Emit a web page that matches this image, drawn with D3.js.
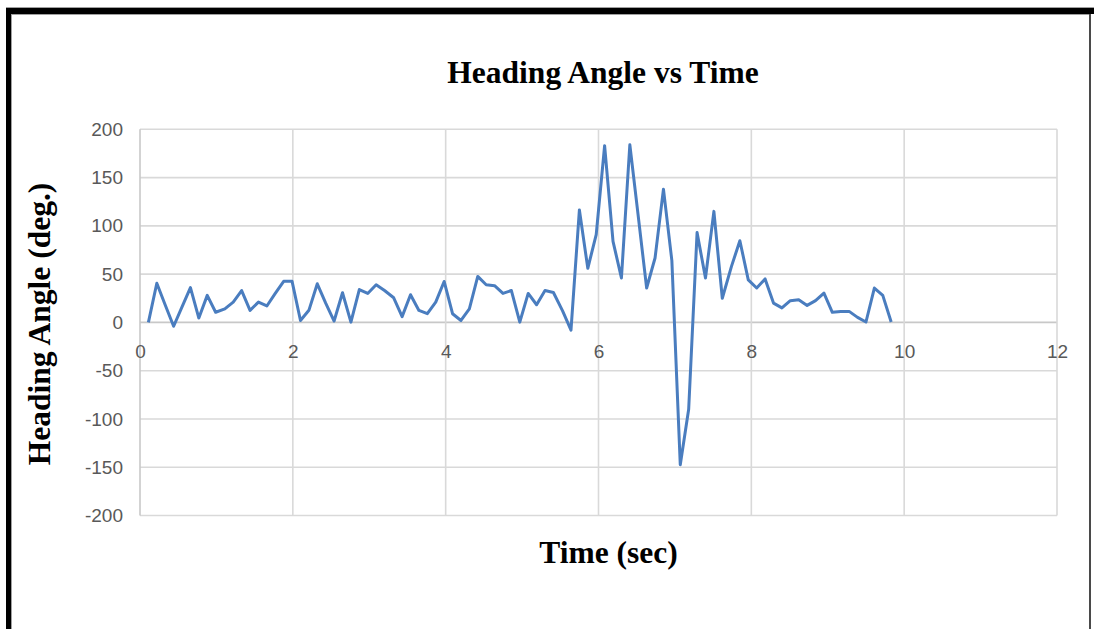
<!DOCTYPE html>
<html>
<head>
<meta charset="utf-8">
<script src="https://cdn.jsdelivr.net/npm/d3@7/dist/d3.min.js"></script>
<style>
  html, body { margin: 0; padding: 0; background: #ffffff; }
  svg { display: block; }
</style>
</head>
<body>
<script>
// Sample times (sec) and heading angle readings (deg.)
const timeSec = [
  0.11, 0.22, 0.33, 0.44, 0.55, 0.66, 0.77, 0.88, 0.99, 1.11,
  1.22, 1.33, 1.44, 1.55, 1.66, 1.77, 1.88, 1.99, 2.10, 2.21,
  2.32, 2.43, 2.54, 2.65, 2.76, 2.87, 2.98, 3.09, 3.20, 3.32,
  3.43, 3.54, 3.65, 3.76, 3.87, 3.98, 4.09, 4.20, 4.31, 4.42,
  4.53, 4.64, 4.75, 4.86, 4.97, 5.08, 5.19, 5.30, 5.41, 5.53,
  5.64, 5.75, 5.86, 5.97, 6.08, 6.19, 6.30, 6.41, 6.52, 6.63,
  6.74, 6.85, 6.96, 7.07, 7.18, 7.29, 7.40, 7.51, 7.62, 7.74,
  7.85, 7.96, 8.07, 8.18, 8.29, 8.40, 8.51, 8.62, 8.73, 8.84,
  8.95, 9.06, 9.17, 9.28, 9.39, 9.50, 9.61, 9.72, 9.83
];
const headingDeg = [
  0, 40.5, 18, -4, 16, 36, 4.5, 28, 10.5, 14,
  21, 33, 12.5, 21, 17, 30, 42.5, 42.5, 2, 12.5,
  40, 20, 1.4, 30.7, 0.3, 34, 30, 39, 33, 25.5,
  6, 28.7, 12.4, 9, 21, 42.4, 9, 2, 14, 47.6,
  39, 38, 30, 33, 0.3, 30, 18.3, 33, 31, 12,
  -8, 116.5, 56, 91, 183, 84, 46, 184, 110, 35.6,
  66.7, 138, 64, -147.5, -90, 93, 46, 115, 25, 58,
  84.6, 44, 35.6, 45, 20, 15, 22.5, 23.5, 17.6, 22.5,
  30.4, 10.4, 11.4, 11.4, 5.2, 0.4, 35.6, 28, 0.4
];

const xTicks = [0, 2, 4, 6, 8, 10, 12];
const yTicks = [-200, -150, -100, -50, 0, 50, 100, 150, 200];

const chartTitle = "Heading Angle vs Time";
const xTitle = "Time (sec)";
const yTitle = "Heading Angle (deg.)";

const W = 1094, H = 629;
const plot = { left: 140, right: 1057, top: 129.3, bottom: 515.5 };

const svg = d3.select("body").append("svg")
  .attr("width", W).attr("height", H);

svg.append("rect").attr("width", W).attr("height", H).attr("fill", "#ffffff");

// Outer frame: heavy top and left rule, thin right rule
svg.append("rect").attr("x", 6).attr("y", 8).attr("width", W - 6).attr("height", 6).attr("fill", "#000");
svg.append("rect").attr("x", 6).attr("y", 8).attr("width", 5).attr("height", H - 8).attr("fill", "#000");
svg.append("line").attr("x1", 6).attr("x2", W).attr("y1", 7.5).attr("y2", 7.5).attr("stroke", "#a0a0a0").attr("stroke-width", 1);
svg.append("line").attr("x1", 11).attr("x2", 1089).attr("y1", 14.5).attr("y2", 14.5).attr("stroke", "#a0a0a0").attr("stroke-width", 1);
svg.append("line").attr("x1", 11.5).attr("x2", 11.5).attr("y1", 14).attr("y2", H).attr("stroke", "#a0a0a0").attr("stroke-width", 1);
svg.append("line").attr("x1", 1090).attr("x2", 1090).attr("y1", 14).attr("y2", H).attr("stroke", "#4a4a4a").attr("stroke-width", 2);

const x = d3.scaleLinear().domain([0, 12]).range([plot.left, plot.right]);
const y = d3.scaleLinear().domain([-200, 200]).range([plot.bottom, plot.top]);

// Gridlines
const grid = svg.append("g");
grid.selectAll("line.h").data(yTicks).join("line")
  .attr("class", "h")
  .attr("x1", plot.left).attr("x2", plot.right)
  .attr("y1", d => y(d)).attr("y2", d => y(d))
  .attr("stroke", d => d === 0 ? "#c8c8c8" : "#d9d9d9")
  .attr("stroke-width", 1.6);
grid.selectAll("line.v").data(xTicks).join("line")
  .attr("class", "v")
  .attr("x1", d => x(d)).attr("x2", d => x(d))
  .attr("y1", plot.top).attr("y2", plot.bottom)
  .attr("stroke", d => d === 0 ? "#c8c8c8" : "#d9d9d9")
  .attr("stroke-width", 1.6);

const tickFont = "'Liberation Sans', Arial, sans-serif";
const plainNumber = d => String(d);

// Y axis labels
const yAxis = svg.append("g")
  .attr("transform", `translate(${plot.left},0)`)
  .call(d3.axisLeft(y).tickValues(yTicks).tickFormat(plainNumber).tickSize(0).tickPadding(17));
yAxis.select(".domain").remove();
yAxis.selectAll("text")
  .attr("fill", "#595959")
  .style("font-family", tickFont)
  .style("font-size", "19px");

// X axis labels, sitting along the zero line
const xAxis = svg.append("g")
  .attr("transform", `translate(0,${y(0)})`)
  .call(d3.axisBottom(x).tickValues(xTicks).tickFormat(plainNumber).tickSize(0).tickPadding(22));
xAxis.select(".domain").remove();
xAxis.selectAll("text")
  .attr("fill", "#595959")
  .style("font-family", tickFont)
  .style("font-size", "19px");

// Heading series
const series = timeSec.map((t, i) => ({ t, v: headingDeg[i] }));
svg.append("path")
  .datum(series)
  .attr("fill", "none")
  .attr("stroke", "#4a7dbf")
  .attr("stroke-width", 3)
  .attr("stroke-linejoin", "round")
  .attr("d", d3.line().x(d => x(d.t)).y(d => y(d.v)));

const titleFont = "'Liberation Serif', 'Times New Roman', serif";

svg.append("text")
  .attr("x", 603).attr("y", 83)
  .attr("text-anchor", "middle")
  .style("font-family", titleFont)
  .style("font-weight", "bold")
  .style("font-size", "31.5px")
  .attr("fill", "#000")
  .text(chartTitle);

svg.append("text")
  .attr("x", 608.5).attr("y", 563)
  .attr("text-anchor", "middle")
  .style("font-family", titleFont)
  .style("font-weight", "bold")
  .style("font-size", "31.5px")
  .attr("fill", "#000")
  .text(xTitle);

svg.append("text")
  .attr("transform", `translate(50,324) rotate(-90)`)
  .attr("text-anchor", "middle")
  .style("font-family", titleFont)
  .style("font-weight", "bold")
  .style("font-size", "31.5px")
  .attr("fill", "#000")
  .text(yTitle);
</script>
</body>
</html>
